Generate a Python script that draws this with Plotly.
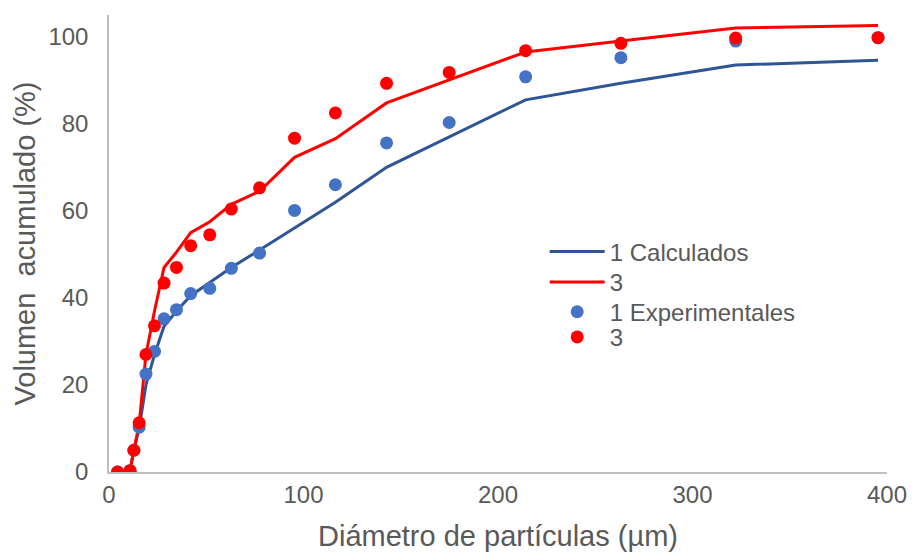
import plotly.graph_objects as go

# Particle diameter (µm)
x_diam = [4.4, 10.8, 12.8, 15.5, 19.0, 23.4, 28.3, 34.7, 42.0, 51.8, 62.9, 77.4,
          95.4, 116.4, 142.7, 174.9, 214.2, 263.2, 322.2, 395.4]

# Calculated cumulative volume (%)
calc_1 = [0.0, 0.3, 5.0, 10.0, 20.0, 27.0, 33.5, 37.0, 40.5, 43.5, 47.0, 51.0,
          56.0, 62.0, 70.0, 77.0, 85.5, 89.3, 93.5, 94.6]
calc_3 = [0.0, 0.5, 5.0, 11.0, 27.0, 37.0, 47.0, 50.5, 55.0, 57.5, 61.5, 64.5,
          72.3, 76.6, 84.8, 90.0, 96.5, 99.0, 102.0, 102.6]

# Experimental cumulative volume (%)
exp_1 = [0.0, 0.3, 5.0, 10.3, 22.5, 27.7, 35.2, 37.3, 41.0, 42.2, 46.8, 50.3,
         60.1, 66.0, 75.6, 80.3, 90.8, 95.2, 99.0, 99.8]
exp_3 = [0.0, 0.3, 5.0, 11.3, 27.0, 33.6, 43.4, 47.0, 52.0, 54.5, 60.4, 65.3,
         76.7, 82.5, 89.3, 91.8, 96.8, 98.5, 99.7, 99.8]

names = ["1 Calculados", "3", "1 Experimentales", "3"]

BLUE_LINE = "#2F5597"
BLUE_MARK = "#4472C4"
RED = "#FF0000"
GRAY = "#595959"
FONT = "Liberation Sans, Arial, sans-serif"

fig = go.Figure()
fig.add_trace(go.Scatter(x=x_diam, y=calc_1, mode="lines", name=names[0],
                         line=dict(color=BLUE_LINE, width=3), legend="legend",
                         showlegend=True))
fig.add_trace(go.Scatter(x=x_diam, y=calc_3, mode="lines", name=names[1],
                         line=dict(color=RED, width=3), legend="legend2",
                         showlegend=True))
fig.add_trace(go.Scatter(x=x_diam, y=exp_1, mode="markers", name=names[2],
                         marker=dict(color=BLUE_MARK, size=13), legend="legend3",
                         showlegend=True))
fig.add_trace(go.Scatter(x=x_diam, y=exp_3, mode="markers", name=names[3],
                         marker=dict(color=RED, size=13), legend="legend4",
                         showlegend=True))

def leg(ytop):
    return dict(x=0.56, y=ytop, xanchor="left", yanchor="top",
                bgcolor="rgba(0,0,0,0)", font=dict(size=24, color=GRAY),
                itemwidth=55, visible=True)

fig.update_layout(
    width=914, height=552,
    showlegend=True,
    margin=dict(l=109, r=27, t=15, b=80),
    paper_bgcolor="white", plot_bgcolor="white",
    font=dict(family=FONT, color=GRAY, size=24),
    legend=leg(0.531),
    legend2=leg(0.464),
    legend3=leg(0.399),
    legend4=leg(0.344),
    xaxis=dict(range=[0, 400], tickvals=[0, 100, 200, 300, 400],
               showgrid=False, zeroline=False, showline=True, automargin=False,
               linecolor="#BFBFBF", linewidth=1.5, ticks="",
               tickfont=dict(size=24, color=GRAY),
               title=dict(text="Diámetro de partículas (µm)",
                          font=dict(size=29, color=GRAY), standoff=20)),
    yaxis=dict(range=[0, 105], tickvals=[0, 20, 40, 60, 80, 100],
               showgrid=False, zeroline=False, showline=True, automargin=False,
               linecolor="#BFBFBF", linewidth=1.5, ticks="", ticklabelstandoff=14,
               tickfont=dict(size=24, color=GRAY),
               title=dict(text="Volumen  acumulado (%)",
                          font=dict(size=29, color=GRAY), standoff=4)),
)

fig.write_html("out.html", config={"displayModeBar": False},
               post_script="document.body.style.margin='0';document.body.style.overflow='hidden';")
